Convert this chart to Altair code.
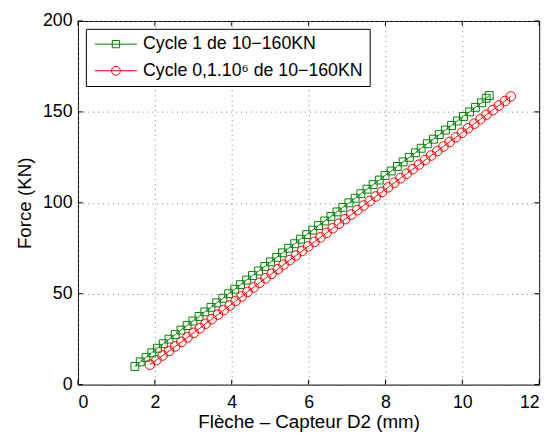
import altair as alt
import pandas as pd

labels = ["Cycle 1 de 10−160KN", "Cycle 0,1.10⁶ de 10−160KN"]
colors = ["#008000", "#ff0000"]

green_F = [10, 12.5, 15, 17.5, 20, 22.5, 25, 27.5, 30, 32.5, 35, 37.5, 40, 42.5, 45, 47.5,
           50, 52.5, 55, 57.5, 60, 62.5, 65, 67.5, 70, 72.5, 75, 77.5, 80, 82.5, 85, 87.5,
           90, 92.5, 95, 97.5, 100, 102.5, 105, 107.5, 110, 112.5, 115, 117.5, 120, 122.5,
           125, 127.5, 130, 132.5, 135, 137.5, 140, 142.5, 145, 147.5, 150, 152.5, 155,
           157.5, 159]
green_x = [1.48, 1.62, 1.77, 1.92, 2.07, 2.22, 2.37, 2.53, 2.68, 2.84, 2.99, 3.15, 3.30,
           3.46, 3.61, 3.77, 3.92, 4.08, 4.23, 4.39, 4.54, 4.70, 4.86, 5.01, 5.17, 5.32,
           5.48, 5.64, 5.79, 5.95, 6.11, 6.26, 6.42, 6.58, 6.74, 6.89, 7.05, 7.21, 7.36,
           7.52, 7.68, 7.84, 7.99, 8.15, 8.31, 8.46, 8.62, 8.78, 8.93, 9.09, 9.25, 9.40,
           9.56, 9.72, 9.87, 10.03, 10.19, 10.34, 10.50, 10.62, 10.70]

red_F = [11, 13.5, 16, 18.5, 21, 23.5, 26, 28.5, 31, 33.5, 36, 38.5, 41, 43.5, 46, 48.5,
         51, 53.5, 56, 58.5, 61, 63.5, 66, 68.5, 71, 73.5, 76, 78.5, 81, 83.5, 86, 88.5,
         91, 93.5, 96, 98.5, 101, 103.5, 106, 108.5, 111, 113.5, 116, 118.5, 121, 123.5,
         126, 128.5, 131, 133.5, 136, 138.5, 141, 143.5, 146, 148.5, 151, 153.5, 156, 158.5]
red_x = [1.87, 2.04, 2.20, 2.37, 2.53, 2.69, 2.85, 3.01, 3.17, 3.32, 3.48, 3.64, 3.79,
         3.95, 4.10, 4.26, 4.41, 4.57, 4.72, 4.88, 5.04, 5.20, 5.35, 5.51, 5.67, 5.83,
         5.99, 6.15, 6.31, 6.47, 6.63, 6.79, 6.95, 7.11, 7.27, 7.43, 7.59, 7.75, 7.91,
         8.07, 8.23, 8.39, 8.55, 8.71, 8.87, 9.03, 9.19, 9.35, 9.51, 9.67, 9.83, 9.99,
         10.15, 10.31, 10.47, 10.63, 10.79, 10.95, 11.11, 11.26]

x_ticks = [0, 2, 4, 6, 8, 10, 12]
y_ticks = [0, 50, 100, 150, 200]

df = pd.concat([
    pd.DataFrame({"x": green_x, "F": green_F, "series": labels[0], "idx": range(len(green_x))}),
    pd.DataFrame({"x": red_x, "F": red_F, "series": labels[1], "idx": range(len(red_x))}),
], ignore_index=True)

xt = pd.DataFrame({"x": x_ticks})
yt = pd.DataFrame({"F": y_ticks})

FONT = "Liberation Sans"
W, H = 468, 369

xs = alt.Scale(domain=[0, 12], nice=False, zero=False)
ys = alt.Scale(domain=[0, 200], nice=False, zero=False)

x_axis = alt.Axis(values=x_ticks, title="Flèche – Capteur D2  (mm)", grid=True,
                  labelPadding=9, titlePadding=1)
y_axis = alt.Axis(values=y_ticks, title="Force (KN)", grid=True,
                  labelPadding=6, titlePadding=8)

x_enc = alt.X("x:Q", scale=xs, axis=x_axis)
y_enc = alt.Y("F:Q", scale=ys, axis=y_axis)


def cscale():
    return alt.Scale(domain=labels, range=colors)


lines = alt.Chart(df).mark_line(strokeWidth=1).encode(
    x=x_enc, y=y_enc,
    color=alt.Color("series:N", scale=cscale(), legend=None),
    order="idx:Q",
)

points = alt.Chart(df).mark_point(filled=False, strokeWidth=1, opacity=1).encode(
    x=x_enc, y=y_enc,
    color=alt.Color("series:N", scale=cscale(), legend=None),
    shape=alt.Shape("series:N", scale=alt.Scale(domain=labels, range=["square", "circle"]), legend=None),
    size=alt.Size("series:N", scale=alt.Scale(domain=labels, range=[64, 95]), legend=None),
)

# legend symbols: a short line with the marker in its middle (nominal size 18 px)
path_sq = "M-2.39,0H2.39M-0.41,-0.41H0.41V0.41H-0.41Z"
path_ci = "M-2.39,0H2.39M0.5,0A0.5,0.5,0,1,1,-0.5,0A0.5,0.5,0,1,1,0.5,0Z"

leg = alt.Legend(title=None, orient="top-left", offset=8, strokeColor="black",
                 fillColor="white", padding=6, labelFont=FONT, labelFontSize=18,
                 labelColor="black", labelOffset=18, labelLimit=0, symbolStrokeWidth=1,
                 symbolOffset=15, rowPadding=8, symbolSize=324)

legend_layer = alt.Chart(df).transform_filter("false").mark_point(
    filled=False, strokeWidth=1, opacity=1, size=324
).encode(
    x=x_enc, y=y_enc,
    color=alt.Color("series:N", scale=cscale(), legend=leg),
    shape=alt.Shape("series:N", scale=alt.Scale(domain=labels, range=[path_sq, path_ci]), legend=leg),
)

tick_b = alt.Chart(xt).mark_rule(color="black", strokeWidth=1).encode(
    x=x_enc, y=alt.value(H), y2=alt.value(H - 5))
tick_t = alt.Chart(xt).mark_rule(color="black", strokeWidth=1).encode(
    x=x_enc, y=alt.value(0), y2=alt.value(5))
tick_l = alt.Chart(yt).mark_rule(color="black", strokeWidth=1).encode(
    y=y_enc, x=alt.value(0), x2=alt.value(5))
tick_r = alt.Chart(yt).mark_rule(color="black", strokeWidth=1).encode(
    y=y_enc, x=alt.value(W), x2=alt.value(W - 5))

chart = alt.layer(lines, points, legend_layer, tick_b, tick_t, tick_l, tick_r).resolve_scale(
    color="independent", shape="independent"
).properties(
    width=W, height=H,
    autosize=alt.AutoSizeParams(type="none"),
    padding={"left": 71, "top": 10, "right": 13, "bottom": 52},
    background="white",
).configure_view(
    stroke="black", strokeWidth=1
).configure_axis(
    domain=False, ticks=False,
    labelFont=FONT, labelFontSize=18, labelColor="black",
    titleFont=FONT, titleFontSize=19, titleFontWeight="normal", titleColor="black",
    gridColor="#777777", gridDash=[1, 4], gridWidth=1, gridOpacity=1,
)

chart.save("out.html", embed_options={"renderer": "svg", "actions": False})
